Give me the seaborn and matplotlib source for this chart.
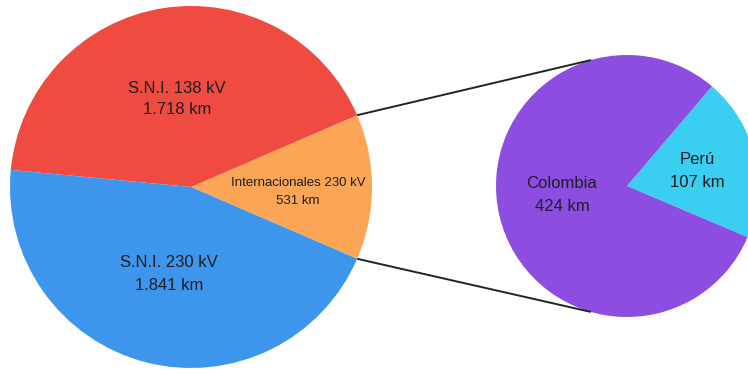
import numpy as np
import matplotlib
matplotlib.use("Agg")
import matplotlib.pyplot as plt
import seaborn as sns

# Main pie: transmission network length by voltage level
main_labels = ["Internacionales 230 kV", "S.N.I. 138 kV", "S.N.I. 230 kV"]
main_km = [531, 1718, 1841]
main_text = ["531 km", "1.718 km", "1.841 km"]
main_colors = ["#FAA656", "#F04B41", "#3E96EC"]

# Secondary pie: breakdown of international lines
sub_labels = ["Perú", "Colombia"]
sub_km = [107, 424]
sub_text = ["107 km", "424 km"]
sub_colors = ["#3ACEF0", "#8C4DE0"]

sns.set_theme(style="white")
plt.rcParams["font.family"] = ["Liberation Sans", "DejaVu Sans"]

W, H = 748, 370
fig = plt.figure(figsize=(W / 100, H / 100), dpi=100)
ax = fig.add_axes([0, 0, 1, 1])

c1, r1 = (191, 183), 181
c2, r2 = (627, 184), 131

# orange slice centred on the horizontal axis
start1 = -main_km[0] / sum(main_km) * 360 / 2
ax.pie(main_km, colors=main_colors, startangle=start1, counterclock=True,
       center=c1, radius=r1, wedgeprops=dict(linewidth=0), frame=True)
start2 = -23
ax.pie(sub_km, colors=sub_colors, startangle=start2, counterclock=True,
       center=c2, radius=r2, wedgeprops=dict(linewidth=0), frame=True)
ax.set_xlim(0, W)
ax.set_ylim(0, H)
ax.set_aspect("equal")
ax.axis("off")

# connector lines between the international slice and the breakdown pie
a_top = np.deg2rad(-start1)
a_bot = np.deg2rad(start1)
p1_top = (c1[0] + r1 * np.cos(a_top), c1[1] + r1 * np.sin(a_top))
p1_bot = (c1[0] + r1 * np.cos(a_bot), c1[1] + r1 * np.sin(a_bot))
b = np.deg2rad(106)
p2_top = (c2[0] + r2 * np.cos(b), c2[1] + r2 * np.sin(b))
p2_bot = (c2[0] + r2 * np.cos(-b), c2[1] + r2 * np.sin(-b))
for p, q in [(p1_top, p2_top), (p1_bot, p2_bot)]:
    ax.plot([p[0], q[0]], [p[1], q[1]], color="#1c2626", lw=1.4,
            solid_capstyle="butt", zorder=3)

tc = "#1e1e24"
pos_main = [(298, 192), (177, 99), (169, 274)]
sizes_main = [9.5, 12, 12]
spacing_main = [1.75, 1.55, 1.7]
for lab, txt, (x, y), fs, ls in zip(main_labels, main_text, pos_main,
                                     sizes_main, spacing_main):
    ax.text(x, H - y, f"{lab}\n{txt}", ha="center", va="center", fontsize=fs,
            color=tc, linespacing=ls)

pos_sub = [(697, 171), (562, 195)]
for lab, txt, (x, y) in zip(sub_labels, sub_text, pos_sub):
    ax.text(x, H - y, f"{lab}\n{txt}", ha="center", va="center", fontsize=12,
            color=tc, linespacing=1.7)

fig.savefig("out.png", dpi=100, facecolor="white")
